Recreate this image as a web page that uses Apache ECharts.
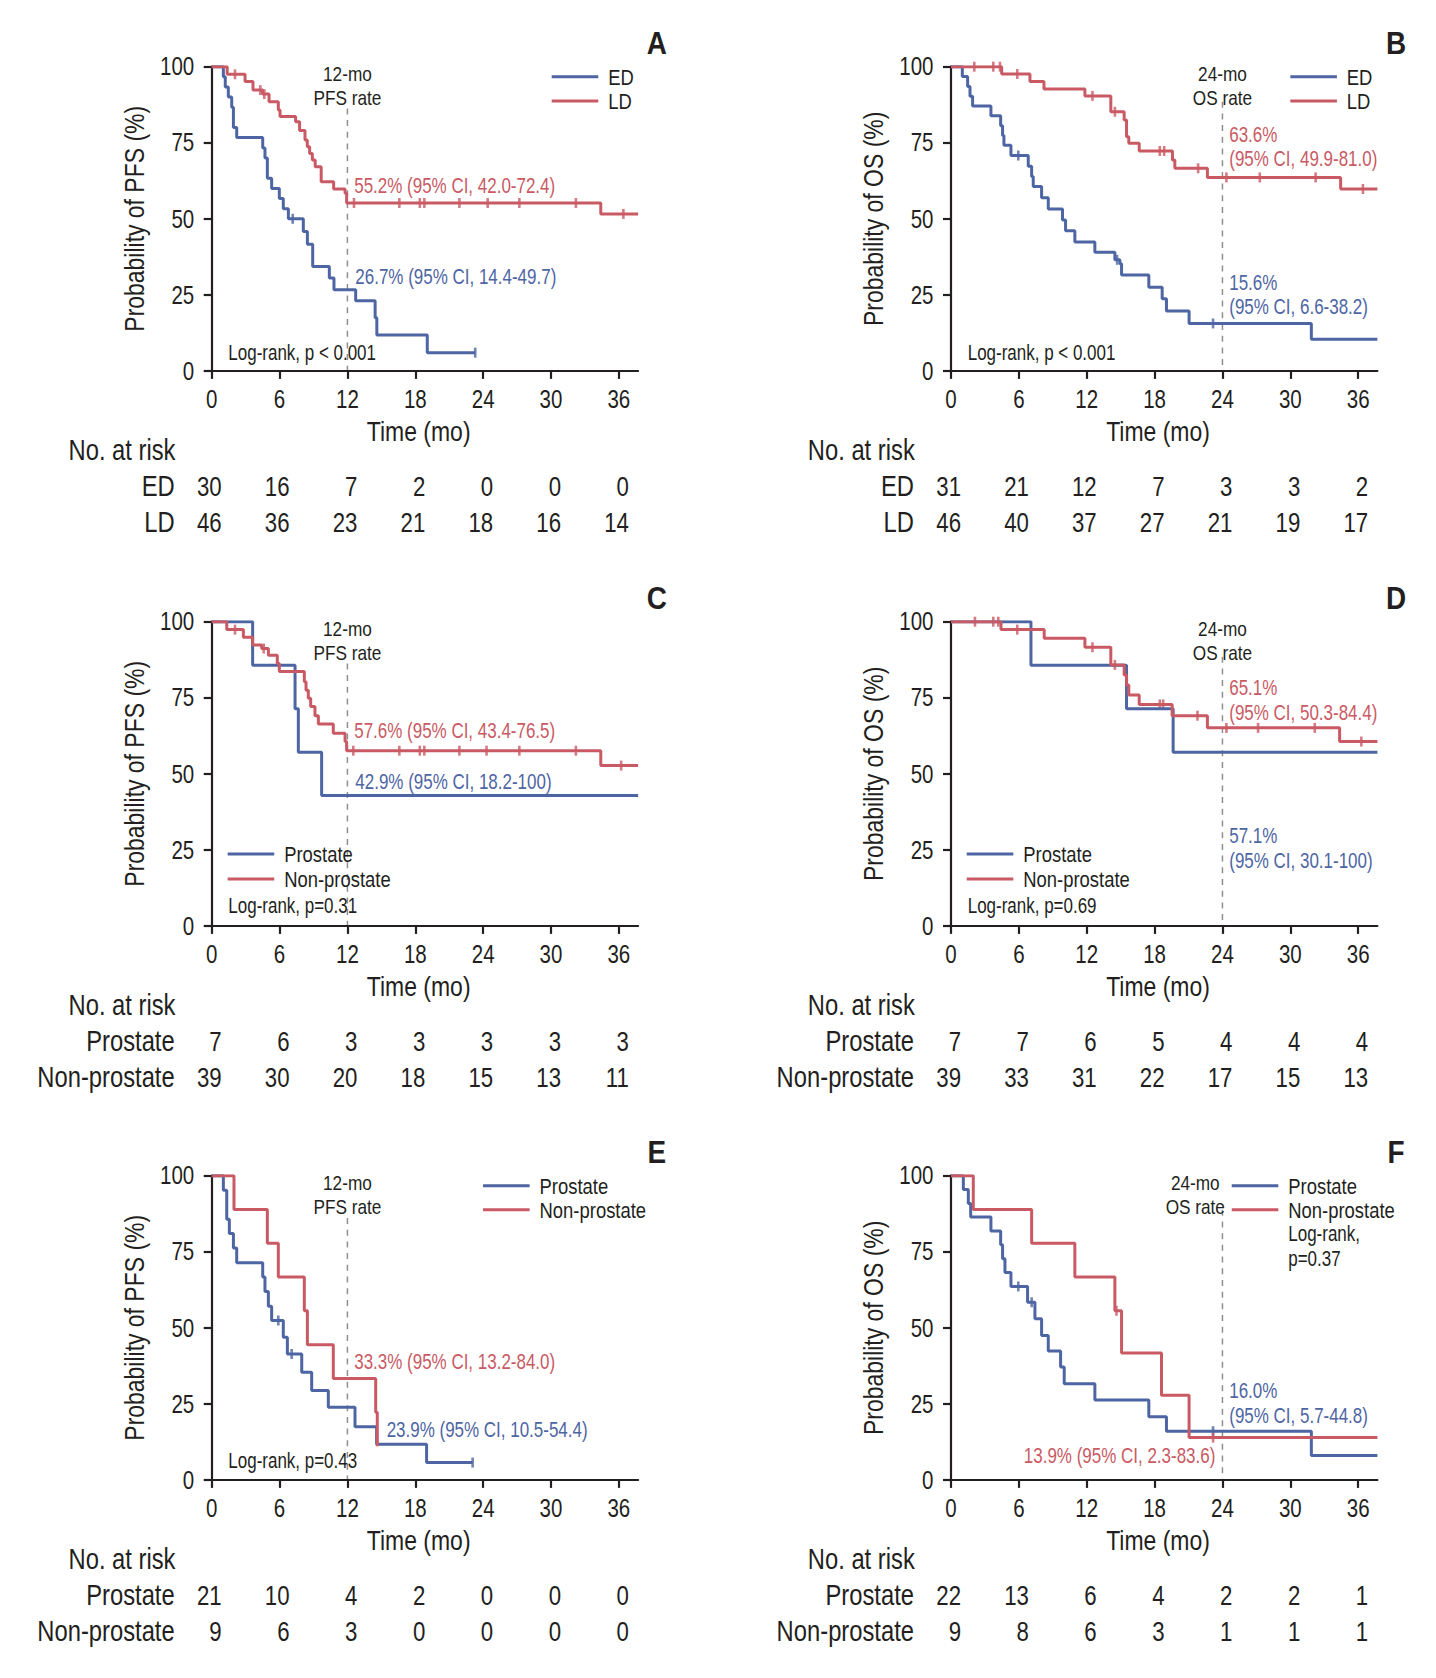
<!DOCTYPE html>
<html><head><meta charset="utf-8">
<script src="https://cdn.jsdelivr.net/npm/echarts@6/dist/echarts.min.js"></script>
<style>html,body{margin:0;padding:0;background:#fff}#c{width:1436px;height:1678px}</style>
</head><body><div id="c"></div>
<script>
// ---------------- DATA ----------------
const timeTicks = [0, 6, 12, 18, 24, 30, 36];
const yTicks = [0, 25, 50, 75, 100];

// Panel A: PFS, ED vs LD
const A_ED_t = [0, 1.03, 1.2, 1.47, 1.77, 1.92, 2.21, 4.51, 4.71, 4.92, 5.3, 5.98, 6.33, 6.78, 8.1, 8.46, 8.93, 10.4, 10.81, 12.73, 14.45, 14.6, 19.06, 23.3];
const A_ED_s = [100, 96.7, 93.3, 90, 86.7, 80, 76.7, 73.3, 70, 63.3, 60, 56.7, 53.3, 50, 45.8, 41.6, 34.3, 30.5, 26.7, 23.1, 17.5, 11.8, 6.0, 6.0];
const A_ED_cens = [7.16, 23.3];
const A_LD_t = [0, 1.37, 2.95, 3.65, 4.5, 5.07, 5.89, 6.04, 7.42, 7.77, 8.25, 8.45, 8.66, 8.9, 9.15, 9.68, 10.78, 11.79, 11.93, 34.4, 37.7];
const A_LD_s = [100, 97.5, 95.1, 92.3, 91.0, 88.5, 85.8, 83.6, 81.9, 79.0, 75.9, 73.7, 71.5, 69.3, 67.1, 62.2, 59.8, 58.4, 55.2, 51.6, 51.6];
const A_LD_cens = [2.06, 4.3, 4.65, 12.58, 16.59, 18.4, 18.8, 21.9, 24.4, 27.2, 32.2, 36.4];
const A_risk_ED = [30, 16, 7, 2, 0, 0, 0];
const A_risk_LD = [46, 36, 23, 21, 18, 16, 14];

// Panel B: OS, ED vs LD
const B_ED_t = [0, 1.0, 1.47, 1.68, 1.91, 3.53, 4.39, 4.56, 4.68, 5.3, 6.83, 7.13, 7.27, 8.01, 8.6, 9.86, 10.13, 10.95, 12.72, 14.49, 14.93, 15.08, 17.49, 18.67, 19.05, 21.05, 31.86, 37.7];
const B_ED_s = [100, 96.8, 93.5, 90.3, 87.1, 83.9, 80.6, 77.4, 74.2, 70.8, 67.3, 63.9, 60.6, 56.9, 53.2, 49.6, 46.1, 42.4, 39.0, 36.5, 35.2, 31.5, 27.5, 23.7, 19.7, 15.6, 10.4, 10.4];
const B_ED_cens = [5.95, 14.69, 23.17];
const B_LD_t = [0, 4.48, 6.98, 8.22, 11.84, 14.13, 15.31, 15.52, 15.72, 16.64, 19.58, 19.79, 22.67, 34.45, 37.7];
const B_LD_s = [100, 97.6, 95.1, 92.7, 90.4, 85.2, 82.5, 77.0, 74.8, 72.3, 69.3, 66.6, 63.6, 59.8, 59.8];
const B_LD_cens = [2.06, 3.74, 4.33, 5.86, 12.51, 14.49, 18.46, 18.85, 21.85, 24.35, 27.3, 32.24, 36.42];
const B_risk_ED = [31, 21, 12, 7, 3, 3, 2];
const B_risk_LD = [46, 40, 37, 27, 21, 19, 17];

// Panel C: PFS, prostate vs non-prostate (LD)
const C_P_t = [0, 3.62, 7.37, 7.66, 9.72, 37.7];
const C_P_s = [100, 85.7, 71.4, 57.1, 42.9, 42.9];
const C_P_cens = [];
const C_N_t = [0, 1.33, 2.8, 3.62, 4.42, 5.01, 5.8, 5.98, 8.19, 8.34, 8.54, 8.75, 9.13, 9.43, 10.75, 11.79, 11.93, 34.4, 37.7];
const C_N_s = [100, 97.4, 94.9, 92.3, 91.2, 89.0, 86.3, 83.6, 80.3, 77.5, 74.8, 72.1, 69.1, 66.4, 63.3, 60.6, 57.6, 52.7, 52.7];
const C_N_cens = [2.06, 3.62, 4.6, 12.52, 16.59, 18.4, 18.8, 21.9, 24.3, 27.2, 32.2, 36.2];
const C_risk_P = [7, 6, 3, 3, 3, 3, 3];
const C_risk_N = [39, 30, 20, 18, 15, 13, 11];

// Panel D: OS, prostate vs non-prostate (LD)
const D_P_t = [0, 7.07, 15.52, 19.64, 37.7];
const D_P_s = [100, 85.7, 71.4, 57.1, 57.1];
const D_P_cens = [];
const D_N_t = [0, 4.42, 8.24, 11.84, 14.13, 15.31, 15.52, 15.72, 16.64, 19.55, 22.67, 34.36, 37.7];
const D_N_s = [100, 97.4, 94.6, 91.6, 85.8, 82.5, 79.2, 75.9, 72.8, 69.1, 65.1, 60.6, 60.6];
const D_N_cens = [2.12, 3.74, 4.18, 5.86, 12.51, 14.49, 18.46, 18.76, 21.79, 24.35, 27.15, 32.16, 36.28];
const D_risk_P = [7, 7, 6, 5, 4, 4, 4];
const D_risk_N = [39, 33, 31, 22, 17, 15, 13];

// Panel E: PFS, prostate vs non-prostate (ED)
const E_P_t = [0, 1.03, 1.33, 1.56, 1.92, 2.21, 4.51, 4.71, 5.01, 5.3, 6.33, 6.69, 7.96, 8.84, 10.31, 12.67, 14.58, 19.0, 23.07];
const E_P_s = [100, 95.2, 85.7, 81.0, 76.2, 71.4, 66.7, 61.9, 57.1, 52.4, 46.9, 41.4, 35.4, 29.4, 23.9, 17.5, 11.7, 5.7, 5.7];
const E_P_cens = [5.89, 7.07, 23.07];
const E_N_t = [0, 1.97, 4.92, 5.89, 8.19, 8.46, 10.75, 14.5, 14.64];
const E_N_s = [100, 88.9, 77.8, 66.7, 55.6, 44.4, 33.3, 22.2, 11.1];
const E_N_cens = [];
const E_risk_P = [21, 10, 4, 2, 0, 0, 0];
const E_risk_N = [9, 6, 3, 0, 0, 0, 0];

// Panel F: OS, prostate vs non-prostate (ED)
const F_P_t = [0, 1.09, 1.53, 1.74, 3.53, 4.39, 4.56, 4.77, 5.3, 6.77, 7.42, 8.01, 8.6, 9.69, 10.01, 12.72, 17.49, 19.05, 31.86, 37.7];
const F_P_s = [100, 95.5, 90.9, 86.4, 81.8, 77.3, 72.7, 68.2, 63.6, 58.4, 53.0, 47.5, 42.4, 37.1, 31.6, 26.3, 20.8, 16.0, 8.0, 8.0];
const F_P_cens = [5.95, 7.13, 23.17];
const F_N_t = [0, 1.97, 7.13, 10.95, 14.49, 15.08, 18.61, 21.05, 37.7];
const F_N_s = [100, 88.9, 77.8, 66.7, 55.6, 41.7, 27.8, 13.9, 13.9];
const F_N_cens = [14.63, 23.17];
const F_risk_P = [22, 13, 6, 4, 2, 2, 1];
const F_risk_N = [9, 8, 6, 3, 1, 1, 1];

// ---------------- STYLE / LAYOUT ----------------
const FONT = "'Liberation Sans', Arial, sans-serif";
const NARROW = 0.82;   // horizontal squeeze to mimic a condensed face
const BLUE = '#4e65a3';
const RED = '#c95a64';
const INK = '#231f20';
const XMAX = 37.7;
const GW = 426.4, GH = 304.2;
const gridPos = [
  [211.7, 66.7], [951, 66.7],
  [211.7, 621.7], [951, 621.7],
  [211.7, 1175.7], [951, 1175.7]
];

const panels = [
  { letter: 'A', yTitle: 'Probability of PFS (%)', mark: 12, markText: ['12-mo', 'PFS rate'], markTextX: 12, markTop: 86.3,
    curves: [['ED', A_ED_t, A_ED_s, A_ED_cens, BLUE], ['LD', A_LD_t, A_LD_s, A_LD_cens, RED]],
    risk: [['ED', A_risk_ED], ['LD', A_risk_LD]],
    legend: { x: 30.06, y: [96.7, 88.7] },
    notes: [
      { x: 12.6, y: 61.1, t: '55.2% (95% CI, 42.0-72.4)', c: RED },
      { x: 12.7, y: 31.0, t: '26.7% (95% CI, 14.4-49.7)', c: BLUE },
      { x: 1.47, y: 6.3, t: 'Log-rank, p < 0.001', c: INK }
    ] },
  { letter: 'B', yTitle: 'Probability of OS (%)', mark: 24, markText: ['24-mo', 'OS rate'], markTextX: 24, markTop: 88.5,
    curves: [['ED', B_ED_t, B_ED_s, B_ED_cens, BLUE], ['LD', B_LD_t, B_LD_s, B_LD_cens, RED]],
    risk: [['ED', B_risk_ED], ['LD', B_risk_LD]],
    legend: { x: 30.0, y: [96.7, 88.7] },
    notes: [
      { x: 24.6, y: 77.9, t: '63.6%', c: RED },
      { x: 24.6, y: 69.9, t: '(95% CI, 49.9-81.0)', c: RED },
      { x: 24.6, y: 29.3, t: '15.6%', c: BLUE },
      { x: 24.6, y: 21.1, t: '(95% CI, 6.6-38.2)', c: BLUE },
      { x: 1.48, y: 6.3, t: 'Log-rank, p < 0.001', c: INK }
    ] },
  { letter: 'C', yTitle: 'Probability of PFS (%)', mark: 12, markText: ['12-mo', 'PFS rate'], markTextX: 12, markTop: 86.3,
    curves: [['Prostate', C_P_t, C_P_s, C_P_cens, BLUE], ['Non-prostate', C_N_t, C_N_s, C_N_cens, RED]],
    risk: [['Prostate', C_risk_P], ['Non-prostate', C_risk_N]],
    legend: { x: 1.41, y: [23.6, 15.4] },
    notes: [
      { x: 12.6, y: 64.4, t: '57.6% (95% CI, 43.4-76.5)', c: RED },
      { x: 12.7, y: 47.4, t: '42.9% (95% CI, 18.2-100)', c: BLUE },
      { x: 1.47, y: 6.9, t: 'Log-rank, p=0.31', c: INK }
    ] },
  { letter: 'D', yTitle: 'Probability of OS (%)', mark: 24, markText: ['24-mo', 'OS rate'], markTextX: 24, markTop: 88.5,
    curves: [['Prostate', D_P_t, D_P_s, D_P_cens, BLUE], ['Non-prostate', D_N_t, D_N_s, D_N_cens, RED]],
    risk: [['Prostate', D_risk_P], ['Non-prostate', D_risk_N]],
    legend: { x: 1.39, y: [23.6, 15.4] },
    notes: [
      { x: 24.6, y: 78.3, t: '65.1%', c: RED },
      { x: 24.6, y: 70.2, t: '(95% CI, 50.3-84.4)', c: RED },
      { x: 24.6, y: 29.7, t: '57.1%', c: BLUE },
      { x: 24.6, y: 21.7, t: '(95% CI, 30.1-100)', c: BLUE },
      { x: 1.48, y: 6.9, t: 'Log-rank, p=0.69', c: INK }
    ] },
  { letter: 'E', yTitle: 'Probability of PFS (%)', mark: 12, markText: ['12-mo', 'PFS rate'], markTextX: 12, markTop: 86.1,
    curves: [['Prostate', E_P_t, E_P_s, E_P_cens, BLUE], ['Non-prostate', E_N_t, E_N_s, E_N_cens, RED]],
    risk: [['Prostate', E_risk_P], ['Non-prostate', E_risk_N]],
    legend: { x: 23.99, y: [96.7, 88.8] },
    notes: [
      { x: 12.6, y: 38.9, t: '33.3% (95% CI, 13.2-84.0)', c: RED },
      { x: 15.47, y: 16.8, t: '23.9% (95% CI, 10.5-54.4)', c: BLUE },
      { x: 1.47, y: 6.4, t: 'Log-rank, p=0.43', c: INK }
    ] },
  { letter: 'F', yTitle: 'Probability of OS (%)', mark: 24, markText: ['24-mo', 'OS rate'], markTextX: 21.6, markTop: 88.8,
    curves: [['Prostate', F_P_t, F_P_s, F_P_cens, BLUE], ['Non-prostate', F_N_t, F_N_s, F_N_cens, RED]],
    risk: [['Prostate', F_risk_P], ['Non-prostate', F_risk_N]],
    legend: { x: 24.82, y: [96.7, 88.8] },
    notes: [
      { x: 29.82, y: 81.2, t: 'Log-rank,', c: INK },
      { x: 29.82, y: 72.9, t: 'p=0.37', c: INK },
      { x: 24.6, y: 29.6, t: '16.0%', c: BLUE },
      { x: 24.6, y: 21.4, t: '(95% CI, 5.7-44.8)', c: BLUE },
      { x: 23.37, y: 8.2, t: '13.9% (95% CI, 2.3-83.6)', c: RED, align: 'right' }
    ] }
];

// ---------------- BUILD ----------------
function stepValue(t, s, x) {
  let v = s[0];
  for (let i = 0; i < t.length; i++) { if (t[i] <= x) v = s[i]; }
  return v;
}

const grids = [], xAxes = [], yAxes = [], series = [];
panels.forEach((p, g) => {
  grids.push({ left: gridPos[g][0], top: gridPos[g][1], width: GW, height: GH, containLabel: false });
  xAxes.push({
    type: 'value', gridIndex: g, min: 0, max: XMAX,
    axisLine: { show: true, lineStyle: { color: INK, width: 2.2 } },
    axisTick: { show: true, inside: false, length: 8, lineStyle: { color: INK, width: 2.2 }, customValues: timeTicks },
    axisLabel: { show: false, customValues: timeTicks },
    splitLine: { show: false }
  });
  yAxes.push({
    type: 'value', gridIndex: g, min: 0, max: 100, interval: 25,
    axisLine: { show: true, lineStyle: { color: INK, width: 2.2 } },
    axisTick: { show: true, inside: false, length: 8, lineStyle: { color: INK, width: 2.2 } },
    axisLabel: { show: false },
    splitLine: { show: false }
  });
  p.curves.forEach(([name, t, s, cens, color]) => {
    series.push({
      type: 'line', name, xAxisIndex: g, yAxisIndex: g, step: 'end', symbol: 'none',
      data: t.map((x, i) => [x, s[i]]),
      lineStyle: { color, width: 3 }, itemStyle: { color }, silent: true, animation: false
    });
    if (cens.length) {
      series.push({
        type: 'scatter', name: name + ' censored', xAxisIndex: g, yAxisIndex: g, clip: false,
        symbol: 'rect', symbolSize: [2.6, 10],
        data: cens.map(c => [c, stepValue(t, s, c)]),
        itemStyle: { color }, silent: true, animation: false
      });
    }
  });
});

const chart = echarts.init(document.getElementById('c'), null, { renderer: 'svg', width: 1436, height: 1678 });
chart.setOption({
  backgroundColor: '#ffffff', animation: false,
  grid: grids, xAxis: xAxes, yAxis: yAxes, series
});

function px(g, x, y) { return chart.convertToPixel({ gridIndex: g }, [x, y]); }
function txt(x, y, text, opt) {
  opt = opt || {};
  return {
    type: 'text', x, y, rotation: opt.rot || 0, scaleX: opt.sx || NARROW, scaleY: 1, silent: true,
    style: {
      text, fill: opt.color || INK, fontSize: opt.size || 21.5, fontFamily: FONT,
      fontWeight: opt.weight || 'normal',
      align: opt.align || 'left', verticalAlign: opt.valign || 'middle'
    }
  };
}

const gfx = [];
panels.forEach((p, g) => {
  const [L, T] = gridPos[g];
  const B = T + GH;
  // tick labels (from the axis tick arrays, placed through the axis scales)
  timeTicks.forEach(v => {
    const a = px(g, v, 0);
    gfx.push(txt(a[0], B + 28, String(v), { size: 25, align: 'center' }));
  });
  yTicks.forEach(v => {
    const a = px(g, 0, v);
    gfx.push(txt(L - 17.5, a[1], String(v), { size: 25, align: 'right' }));
  });
  // y axis title
  gfx.push(txt(L - 78, T + GH / 2, p.yTitle, { size: 28, align: 'center', rot: Math.PI / 2 }));
  // x axis title
  const tx = px(g, 18.3, 0)[0];
  gfx.push(txt(tx, B + 60, 'Time (mo)', { size: 28, align: 'center' }));
  // panel letter
  const lp = px(g, 39.35, 107.7);
  gfx.push(txt(lp[0], lp[1], p.letter, { size: 31, weight: 'bold', align: 'center', sx: 0.9 }));
  // landmark dashed line
  const m0 = px(g, p.mark, p.markTop), m1 = px(g, p.mark, 0);
  gfx.push({ type: 'line', silent: true, shape: { x1: m0[0], y1: m0[1], x2: m1[0], y2: m1[1] },
    style: { stroke: '#8f8f8f', lineWidth: 1.5, lineDash: [6, 5.7] } });
  const mt1 = px(g, p.markTextX, 97.8), mt2 = px(g, p.markTextX, 89.7);
  gfx.push(txt(mt1[0], mt1[1], p.markText[0], { align: 'center', size: 21 }));
  gfx.push(txt(mt2[0], mt2[1], p.markText[1], { align: 'center', size: 21 }));
  // legend
  p.curves.forEach((c, i) => {
    const a = px(g, p.legend.x, p.legend.y[i]);
    gfx.push({ type: 'line', silent: true, shape: { x1: a[0], y1: a[1], x2: a[0] + 46.6, y2: a[1] },
      style: { stroke: c[4], lineWidth: 3 } });
    gfx.push(txt(a[0] + 56.5, a[1], c[0], { size: 22.5 }));
  });
  // notes
  p.notes.forEach(n => {
    const a = px(g, n.x, n.y);
    gfx.push(txt(a[0], a[1], n.t, { color: n.c, align: n.align || 'left', sx: 0.79 }));
  });
  // number at risk table
  gfx.push(txt(L - 143.2, B + 79, 'No. at risk', { size: 29 }));
  p.risk.forEach(([label, vals], r) => {
    const ry = B + 115 + r * 36;
    gfx.push(txt(L - 37, ry, label, { size: 29, align: 'right' }));
    vals.forEach((v, k) => {
      const xx = px(g, timeTicks[k], 0)[0] + 10;
      gfx.push(txt(xx, ry, String(v), { size: 28.5, align: 'right', sx: 0.78 }));
    });
  });
});
chart.setOption({ graphic: { elements: gfx } });
</script>
</body></html>
